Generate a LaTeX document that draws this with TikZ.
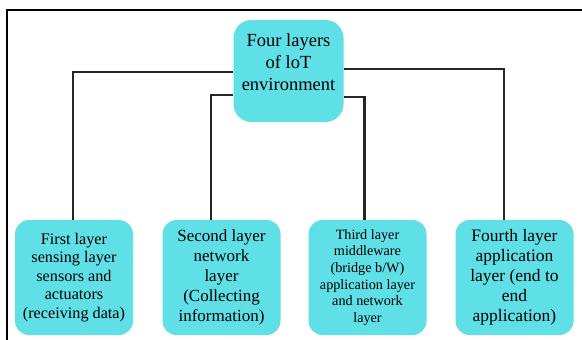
\documentclass[tikz,border=0pt]{standalone}
\usepackage{fontspec}
\setmainfont{Liberation Serif}
\definecolor{layercyan}{RGB}{94,224,230}
\begin{document}
\begin{tikzpicture}[
    x=1pt, y=-1pt,
    layer/.style={fill=layercyan, rounded corners=14pt, minimum width=118pt, minimum height=115pt, inner sep=2pt, align=center},
    link/.style={draw=black!85, line width=2.6pt}
  ]
    \useasboundingbox (0,0) rectangle (582,340);
    \draw[line width=2pt] (7,341) -- (7,10) -- (583,10);

    \node[layer, minimum width=110pt, minimum height=102pt, rounded corners=18pt, inner ysep=0pt,
          text height=70pt, text depth=32pt, font=\fontsize{18.5}{22}\selectfont] (root) at (288.5,71) {Four layers\\of loT\\environment};

    \node[layer, font=\fontsize{16.2}{18.5}\selectfont] (first)  at (74,277.5)    {First layer\\sensing layer\\sensors and\\actuators\\(receiving data)};
    \node[layer, font=\fontsize{17}{20}\selectfont]     (second) at (221.5,277.5) {Second layer\\network\\layer\\(Collecting\\information)};
    \node[layer, font=\fontsize{14.2}{16.7}\selectfont] (third)  at (367.5,277.5) {Third layer\\middleware\\(bridge b/W)\\application layer\\and network\\layer};
    \node[layer, font=\fontsize{17.5}{20}\selectfont]   (fourth) at (514.5,277.5) {Fourth layer\\application\\layer (end to\\end\\application)};

    \draw[link] ([yshift=-1pt]root.west) -| ([xshift=-1pt]first.north);
    \draw[link] ([yshift=2pt]root.east) -| ([xshift=-10.5pt]fourth.north);
    \draw[link] ([yshift=-24pt]root.west) -| ([xshift=-10.5pt]second.north);
    \draw[link] ([yshift=-26pt]root.east) -| ([xshift=-3pt]third.north);
  \end{tikzpicture}
\end{document}
